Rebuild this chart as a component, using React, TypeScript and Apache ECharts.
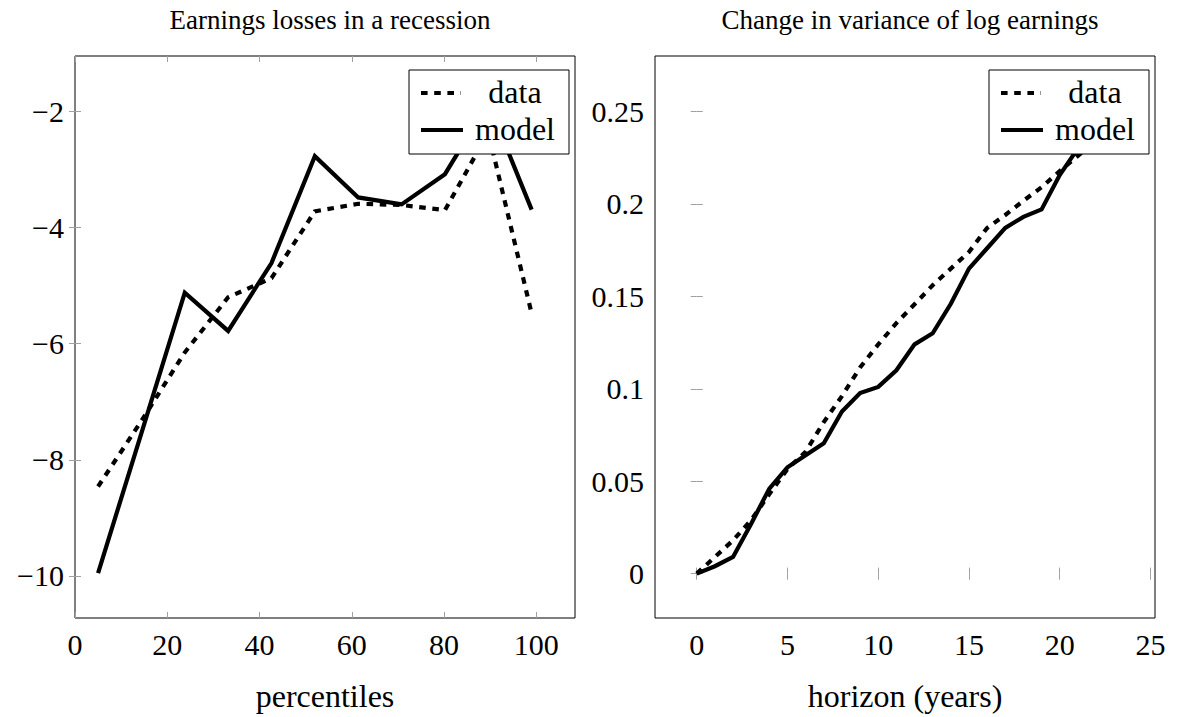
import React, { useEffect, useRef } from "react";
import * as echarts from "echarts";

const percentiles = [5, 14.4, 23.8, 33.2, 42.6, 52, 61.4, 70.8, 80.2, 89.6, 99];
const lossData = [-8.46, -7.33, -6.15, -5.2, -4.87, -3.72, -3.59, -3.61, -3.7, -2.36, -5.48];
const lossModel = [-9.95, -7.54, -5.12, -5.78, -4.61, -2.77, -3.48, -3.6, -3.08, -1.85, -3.69];

const horizon = [0, 1, 2, 3, 4, 5, 6, 7, 8, 9, 10, 11, 12, 13, 14, 15, 16, 17, 18, 19, 20, 21, 22, 23];
const varData = [0, 0.009, 0.018, 0.029, 0.043, 0.0566, 0.0659, 0.082, 0.096, 0.1115, 0.124, 0.1355, 0.1457, 0.156, 0.165, 0.174, 0.187, 0.194, 0.2017, 0.209, 0.2177, 0.226, 0.234, 0.242];
const varModel = [0, 0.004, 0.009, 0.027, 0.046, 0.0575, 0.064, 0.0705, 0.0877, 0.0977, 0.101, 0.11, 0.124, 0.13, 0.146, 0.165, 0.176, 0.187, 0.193, 0.197, 0.2156, 0.23, 0.243, 0.2546];

const leftXTicks = [0, 20, 40, 60, 80, 100];
const leftYTicks = [-10, -8, -6, -4, -2];
const rightXTicks = [0, 5, 10, 15, 20, 25];
const rightYTicks = [0, 0.05, 0.1, 0.15, 0.2, 0.25];

const titles = ["Earnings losses in a recession", "Change in variance of log earnings"];
const xNames = ["percentiles", "horizon (years)"];
const legendNames = ["data", "model"];

const FONT = "'Liberation Serif', 'DejaVu Serif', serif";
const TICK_FS = 30;
const NAME_FS = 32;
const LEG_FS = 32;
const TITLE_FS = 27;
const fmt = (v: number) => (v < 0 ? "\u2212" + Math.abs(v) : String(v));

function makeAxes(gi: number, xmin: number, xmax: number, ymin: number, ymax: number, xt: number[], yt: number[], xName: string) {
  const tick = (vals: number[]) => ({ show: true, inside: true, length: 6, customValues: vals, lineStyle: { color: "#a0a0a0", width: 1 } });
  const label = (vals: number[], margin: number) => ({
    show: true, customValues: vals, color: "#000", fontSize: TICK_FS, fontFamily: FONT, margin, formatter: fmt,
  });
  const xAxes = [
    {
      gridIndex: gi, type: "value", min: xmin, max: xmax, position: "bottom",
      axisLine: { show: false }, splitLine: { show: false },
      axisTick: tick(xt), axisLabel: label(xt, 11),
      name: xName, nameLocation: "middle", nameGap: 62,
      nameTextStyle: { color: "#000", fontSize: NAME_FS, fontFamily: FONT },
    },
    {
      gridIndex: gi, type: "value", min: xmin, max: xmax, position: "top",
      axisLine: { show: false }, splitLine: { show: false },
      axisTick: tick(xt), axisLabel: { show: false },
    },
  ];
  const yAxes = [
    {
      gridIndex: gi, type: "value", min: ymin, max: ymax, position: "left",
      axisLine: { show: false }, splitLine: { show: false },
      axisTick: tick(yt), axisLabel: label(yt, 11),
    },
    {
      gridIndex: gi, type: "value", min: ymin, max: ymax, position: "right",
      axisLine: { show: false }, splitLine: { show: false },
      axisTick: tick(yt), axisLabel: { show: false },
    },
  ];
  return { xAxes, yAxes };
}

function legendGraphic(x: number, y: number) {
  const w = 160, h = 84;
  return [
    { type: "rect", z: 100, shape: { x, y, width: w, height: h }, style: { fill: "#fff", stroke: "#000", lineWidth: 1 } },
    { type: "line", z: 101, shape: { x1: x + 12, y1: y + 23, x2: x + 52, y2: y + 23 }, style: { stroke: "#000", lineWidth: 4.2, lineDash: [6.6, 6.6], lineCap: "butt" } },
    { type: "text", z: 101, x: x + 106, y: y + 22, style: { text: legendNames[0], fill: "#000", fontSize: LEG_FS, fontFamily: FONT, align: "center", verticalAlign: "middle" } },
    { type: "line", z: 101, shape: { x1: x + 12, y1: y + 60, x2: x + 54, y2: y + 60 }, style: { stroke: "#000", lineWidth: 4.2 } },
    { type: "text", z: 101, x: x + 106, y: y + 59, style: { text: legendNames[1], fill: "#000", fontSize: LEG_FS, fontFamily: FONT, align: "center", verticalAlign: "middle" } },
  ];
}

export default function App() {
  const ref = useRef<HTMLDivElement>(null);
  useEffect(() => {
    if (!ref.current) return;
    const chart = echarts.init(ref.current, null, { renderer: "svg" });
    const L = makeAxes(0, 0, 108.4, -10.725, -1.044, leftXTicks, leftYTicks, xNames[0]);
    const R = makeAxes(1, -2.3, 25.25, -0.024, 0.28, rightXTicks, rightYTicks, xNames[1]);
    const dashed = { color: "#000", width: 4.2, type: [6.6, 6.6], cap: "butt", join: "miter" };
    const solid = { color: "#000", width: 4.2, type: "solid", cap: "butt", join: "miter" };
    chart.setOption({
      animation: false,
      backgroundColor: "#fff",
      title: [
        { text: titles[0], left: 325, top: 1, textAlign: "center", textStyle: { color: "#000", fontSize: TITLE_FS, fontWeight: "normal", fontFamily: FONT } },
        { text: titles[1], left: 905, top: 1, textAlign: "center", textStyle: { color: "#000", fontSize: TITLE_FS, fontWeight: "normal", fontFamily: FONT } },
      ],
      grid: [
        { left: 75, top: 56, width: 500, height: 570, show: true, borderColor: "#000", borderWidth: 1, backgroundColor: "transparent" },
        { left: 655, top: 56, width: 500, height: 570, show: true, borderColor: "#000", borderWidth: 1, backgroundColor: "transparent" },
      ],
      xAxis: [...L.xAxes, ...R.xAxes],
      yAxis: [...L.yAxes, ...R.yAxes],
      series: [
        { name: legendNames[0], type: "line", xAxisIndex: 0, yAxisIndex: 0, symbol: "none", lineStyle: dashed, data: percentiles.map((p, i) => [p, lossData[i]]) },
        { name: legendNames[1], type: "line", xAxisIndex: 0, yAxisIndex: 0, symbol: "none", lineStyle: solid, data: percentiles.map((p, i) => [p, lossModel[i]]) },
        { name: legendNames[0], type: "line", xAxisIndex: 2, yAxisIndex: 2, symbol: "none", lineStyle: dashed, data: horizon.map((h, i) => [h, varData[i]]) },
        { name: legendNames[1], type: "line", xAxisIndex: 2, yAxisIndex: 2, symbol: "none", lineStyle: solid, data: horizon.map((h, i) => [h, varModel[i]]) },
      ],
      graphic: [...legendGraphic(409, 70), ...legendGraphic(989, 70)],
    });
    return () => chart.dispose();
  }, []);
  return <div ref={ref} style={{ position: "fixed", left: 0, top: 0, width: 1177, height: 717, background: "#fff" }} />;
}
